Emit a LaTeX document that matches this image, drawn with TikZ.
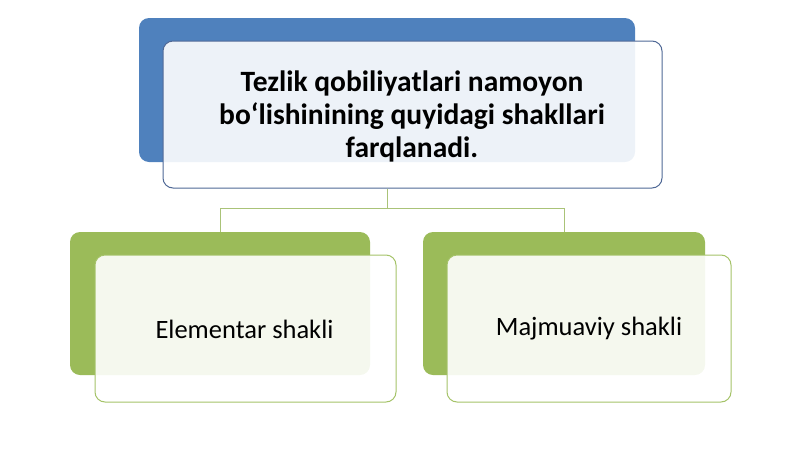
\documentclass[tikz,border=0pt]{standalone}
\usepackage{fontspec}
\setmainfont{Carlito}
\begin{document}
\begin{tikzpicture}[x=1pt,y=-1pt,
  backblue/.style={fill={rgb,255:red,79;green,129;blue,189}, rounded corners=10pt},
  backgreen/.style={fill={rgb,255:red,155;green,187;blue,89}, rounded corners=10pt},
  frontblue/.style={draw={rgb,255:red,80;green,105;blue,150}, line width=1pt, fill=white, fill opacity=0.9, text opacity=1, rounded corners=10pt},
  frontgreen/.style={draw={rgb,255:red,165;green,195;blue,105}, line width=1pt, fill=white, fill opacity=0.9, text opacity=1, rounded corners=10pt},
  conn/.style={draw={rgb,255:red,170;green,195;blue,120}, line width=0.8pt}]
\useasboundingbox (0,0) rectangle (800,450);
% top
\node[backblue, inner sep=0, minimum width=496pt, minimum height=144pt] (topback) at (387,90) {};
\node[frontblue, inner sep=0, minimum width=499pt, minimum height=147pt] (topfront) at (412.5,114.5) {};
\node[align=center, font=\fontsize{29.5}{33}\selectfont\bfseries] (toptext) at (412,116) {Tezlik qobiliyatlari namoyon\\bo‘lishinining quyidagi shakllari\\farqlanadi.};
% left
\node[backgreen, inner sep=0, minimum width=300pt, minimum height=143pt] (lback) at (220,303.5) {};
\node[frontgreen, inner sep=0, minimum width=301pt, minimum height=147pt] (lfront) at (245.5,328.5) {};
\node[font=\fontsize{26.5}{30}\selectfont] (ltext) at (244.5,329) {Elementar shakli};
% right
\node[backgreen, inner sep=0, minimum width=282pt, minimum height=143pt] (rback) at (564,303.5) {};
\node[frontgreen, inner sep=0, minimum width=284pt, minimum height=147pt] (rfront) at (589,328.5) {};
\node[font=\fontsize{26.5}{30}\selectfont] (rtext) at (589,329) {Majmuaviy shakli};
% connectors
\coordinate (j) at (387,208);
\draw[conn] (topfront.south -| topback.south) -- (j);
\draw[conn] (j) -| (lback.north);
\draw[conn] (j) -| (rback.north);
\end{tikzpicture}
\end{document}
